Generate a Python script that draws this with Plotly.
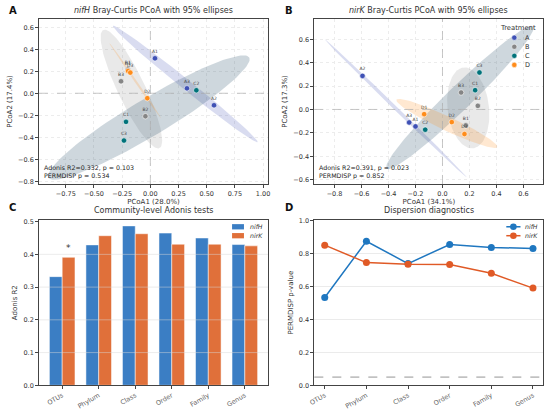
import numpy as np
import plotly.graph_objects as go
from plotly.subplots import make_subplots

# ---- data ----
groups = ["A", "B", "C", "D"]
group_colors = {"A": "#3f51b5", "B": "#858585", "C": "#00727a", "D": "#ff8c1a"}
group_fills = {"A": "rgba(63,81,181,0.2)", "B": "rgba(133,133,133,0.18)",
               "C": "rgba(30,75,100,0.22)", "D": "rgba(255,140,26,0.2)"}

samples = ["A1", "A2", "A3", "B1", "B2", "B3", "C1", "C2", "C3", "D1", "D2", "D3"]

nifh_pc1 = [0.041, 0.565, 0.325, -0.20, -0.044, -0.26, -0.216, 0.408, -0.234, -0.198, -0.027, -0.178]
nifh_pc2 = [0.318, -0.109, 0.045, 0.215, -0.209, 0.109, -0.26, 0.027, -0.43, 0.203, -0.045, 0.188]
nifh_var = (28.0, 17.4)
nifh_stats = (0.332, 0.103, 0.534)

nirk_pc1 = [-0.20, -0.593, -0.247, 0.173, 0.262, 0.138, 0.242, -0.128, 0.274, -0.136, 0.069, 0.163]
nirk_pc2 = [-0.145, 0.287, -0.111, -0.136, 0.031, 0.145, 0.165, -0.173, 0.316, -0.04, -0.108, -0.21]
nirk_var = (34.1, 17.3)
nirk_stats = (0.391, 0.023, 0.852)

levels = ["OTUs", "Phylum", "Class", "Order", "Family", "Genus"]
nifh_r2 = [0.332, 0.429, 0.487, 0.465, 0.450, 0.430]
nirk_r2 = [0.391, 0.457, 0.463, 0.431, 0.431, 0.426]
nirk_sig = ["*", "", "", "", "", ""]

nifh_disp = [0.534, 0.876, 0.740, 0.856, 0.838, 0.832]
nirk_disp = [0.852, 0.746, 0.736, 0.734, 0.681, 0.591]

bar_blue, bar_orange = "#3b7ec4", "#e0703a"
line_blue, line_orange = "#1f77c0", "#e05a26"

FONT = "DejaVu Sans"
TXT = "#333333"


def ellipse_xy(xs, ys, n=120):
    # 95% covariance ellipse, chi2(2) = 5.991
    pts = np.column_stack([xs, ys])
    mu = pts.mean(axis=0)
    vals, vecs = np.linalg.eigh(np.cov(pts, rowvar=False))
    r = np.sqrt(np.clip(vals, 0, None) * 5.991)
    t = np.linspace(0, 2 * np.pi, n)
    e = np.column_stack([np.cos(t) * r[0], np.sin(t) * r[1]]) @ vecs.T + mu
    return e[:, 0], e[:, 1]


fig = make_subplots(rows=2, cols=2)


def add_pcoa(pc1, pc2, row, col):
    grp = [s[0] for s in samples]
    for g in groups:
        xs = [x for x, k in zip(pc1, grp) if k == g]
        ys = [y for y, k in zip(pc2, grp) if k == g]
        ex, ey = ellipse_xy(xs, ys)
        fig.add_trace(go.Scatter(x=ex, y=ey, mode="lines", fill="toself",
                                 fillcolor=group_fills[g], line=dict(width=0),
                                 hoverinfo="skip", showlegend=False), row=row, col=col)
    for g in groups:
        idx = [i for i, k in enumerate(grp) if k == g]
        fig.add_trace(go.Scatter(x=[pc1[i] for i in idx], y=[pc2[i] for i in idx],
                                 text=[samples[i] for i in idx], mode="markers+text",
                                 textposition="top center",
                                 textfont=dict(size=4.5, color="#444", family=FONT),
                                 marker=dict(size=5.5, color=group_colors[g],
                                             line=dict(color="white", width=0.6)),
                                 name=g, showlegend=False), row=row, col=col)


add_pcoa(nifh_pc1, nifh_pc2, 1, 1)
add_pcoa(nirk_pc1, nirk_pc2, 1, 2)

fig.add_trace(go.Bar(x=list(range(len(levels))), y=nifh_r2, name="nifH", offsetgroup="a",
                     marker=dict(color=bar_blue, line=dict(color="white", width=0.5)),
                     showlegend=False), row=2, col=1)
fig.add_trace(go.Bar(x=list(range(len(levels))), y=nirk_r2, name="nirK", offsetgroup="b",
                     marker=dict(color=bar_orange, line=dict(color="white", width=0.5)),
                     showlegend=False), row=2, col=1)

fig.add_trace(go.Scatter(x=list(range(len(levels))), y=nifh_disp, mode="lines+markers",
                         line=dict(color=line_blue, width=1.5), marker=dict(size=7, color=line_blue),
                         name="nifH", showlegend=False), row=2, col=2)
fig.add_trace(go.Scatter(x=list(range(len(levels))), y=nirk_disp, mode="lines+markers",
                         line=dict(color=line_orange, width=1.5), marker=dict(size=7, color=line_orange),
                         name="nirK", showlegend=False), row=2, col=2)

# ---- axes ----
dom_x = [[0.0709, 0.4873], [0.5715, 0.988]]
dom_y = [[0.5556, 0.954], [0.0693, 0.4686]]
axis_common = dict(showline=True, mirror=True, linecolor="#444", linewidth=0.8,
                   ticks="outside", ticklen=3, tickwidth=0.8, tickcolor="#444",
                   tickfont=dict(size=6.5, color=TXT, family=FONT), zeroline=False,
                   automargin=False, title_font=dict(size=7, color=TXT, family=FONT))
for r in (1, 2):
    for c in (1, 2):
        fig.update_xaxes(domain=dom_x[c - 1], row=r, col=c, **axis_common)
        fig.update_yaxes(domain=dom_y[r - 1], row=r, col=c, **axis_common)

pcoa_grid = dict(showgrid=True, gridcolor="#ececec", griddash="dot", gridwidth=0.6)
fig.update_xaxes(range=[-0.988, 1.044], tickvals=[-0.75, -0.5, -0.25, 0, 0.25, 0.5, 0.75, 1.0],
                 ticktext=["−0.75", "−0.50", "−0.25", "0.00", "0.25", "0.50", "0.75", "1.00"],
                 title_text="PCoA1 (%.1f%%)" % nifh_var[0], title_standoff=2, row=1, col=1, **pcoa_grid)
fig.update_yaxes(range=[-0.825, 0.675], tickvals=[-0.8, -0.6, -0.4, -0.2, 0, 0.2, 0.4, 0.6],
                 ticktext=["−0.8", "−0.6", "−0.4", "−0.2", "0.0", "0.2", "0.4", "0.6"],
                 title_text="PCoA2 (%.1f%%)" % nifh_var[1], title_standoff=4, row=1, col=1, **pcoa_grid)
fig.update_xaxes(range=[-0.95, 0.748], tickvals=[-0.8, -0.6, -0.4, -0.2, 0, 0.2, 0.4, 0.6],
                 ticktext=["−0.8", "−0.6", "−0.4", "−0.2", "0.0", "0.2", "0.4", "0.6"],
                 title_text="PCoA1 (%.1f%%)" % nirk_var[0], title_standoff=2, row=1, col=2, **pcoa_grid)
fig.update_yaxes(range=[-0.637, 0.773], tickvals=[-0.6, -0.4, -0.2, 0, 0.2, 0.4, 0.6],
                 ticktext=["−0.6", "−0.4", "−0.2", "0.0", "0.2", "0.4", "0.6"],
                 title_text="PCoA2 (%.1f%%)" % nirk_var[1], title_standoff=4, row=1, col=2, **pcoa_grid)

cat_ticks = dict(tickvals=list(range(len(levels))), ticktext=levels, tickangle=-30,
                 tickfont=dict(size=6.5, color="#666", family=FONT), showgrid=False)
fig.update_xaxes(range=[-0.635, 5.635], row=2, col=1, **cat_ticks)
fig.update_xaxes(range=[-0.25, 5.25], row=2, col=2, **cat_ticks)
fig.update_yaxes(range=[0, 0.505], dtick=0.1, tickformat=".1f", showgrid=False,
                 title_text="Adonis R2", title_standoff=4, row=2, col=1)
fig.update_yaxes(range=[0, 1.005], dtick=0.2, tickformat=".1f", showgrid=True,
                 gridcolor="#ebebeb", gridwidth=0.6,
                 title_text="PERMDISP p-value", title_standoff=4, row=2, col=2)

# ---- reference lines ----
for xr, yr in (("x", "y"), ("x2", "y2")):
    fig.add_shape(type="line", xref=xr, yref=yr + " domain", x0=0, x1=0, y0=0, y1=1,
                  line=dict(color="#b0b0b0", width=0.7, dash="dash"))
    fig.add_shape(type="line", xref=xr + " domain", yref=yr, x0=0, x1=1, y0=0, y1=0,
                  line=dict(color="#b0b0b0", width=0.7, dash="dash"))
fig.add_shape(type="line", xref="x4 domain", yref="y4", x0=0, x1=1, y0=0.05, y1=0.05,
              line=dict(color="#888888", width=0.9, dash="dash"))
# grid drawn over the bars
for v in (0.1, 0.2, 0.3, 0.4):
    fig.add_shape(type="line", xref="x3 domain", yref="y3", x0=0, x1=1, y0=v, y1=v,
                  layer="above", line=dict(color="rgba(215,215,215,0.6)", width=0.8))

# ---- text ----
ann = []
titles = [("<i>nifH</i> Bray-Curtis PCoA with 95% ellipses", 0.279, 0.974),
          ("<i>nirK</i> Bray-Curtis PCoA with 95% ellipses", 0.7797, 0.974),
          ("Community-level Adonis tests", 0.279, 0.492),
          ("Dispersion diagnostics", 0.7797, 0.492)]
for t, x, y in titles:
    ann.append(dict(text=t, x=x, y=y, xref="paper", yref="paper", showarrow=False,
                    xanchor="center", yanchor="middle", font=dict(size=8, color=TXT, family=FONT)))
for t, x, y in (("A", 0.013, 0.975), ("B", 0.514, 0.975), ("C", 0.013, 0.498), ("D", 0.514, 0.498)):
    ann.append(dict(text="<b>%s</b>" % t, x=x, y=y, xref="paper", yref="paper", showarrow=False,
                    xanchor="left", yanchor="middle", font=dict(size=10, color="#111", family=FONT)))
for (r2, p, pd_), xr, yr in ((nifh_stats, "x", "y"), (nirk_stats, "x2", "y2")):
    ann.append(dict(text="Adonis R2=%.3f, p = %.3f<br>PERMDISP p = %.3f" % (r2, p, pd_),
                    x=0.012, y=0.015, xref=xr + " domain", yref=yr + " domain", showarrow=False,
                    xanchor="left", yanchor="bottom", align="left",
                    font=dict(size=6.3, color="#222", family=FONT)))
for i, s in enumerate(nirk_sig):
    if s:
        ann.append(dict(text=s, x=i + 0.175, y=nirk_r2[i] + 0.008, xref="x3", yref="y3",
                        showarrow=False, yanchor="bottom", font=dict(size=9, color="#333", family=FONT)))

# treatment legend (panel B)
ann.append(dict(text="Treatment", x=0.89, y=0.945, xref="x2 domain", yref="y2 domain",
                showarrow=False, xanchor="center", yanchor="middle",
                font=dict(size=6.8, color=TXT, family=FONT)))
for i, g in enumerate(groups):
    yy = 0.887 - 0.055 * i
    fig.add_shape(type="circle", xref="x2 domain", yref="y2 domain", xsizemode="pixel",
                  ysizemode="pixel", xanchor=0.873, yanchor=yy, x0=-2.6, x1=2.6, y0=-2.6, y1=2.6,
                  fillcolor=group_colors[g], line=dict(color="white", width=0.5))
    ann.append(dict(text=g, x=0.91, y=yy, xref="x2 domain", yref="y2 domain", showarrow=False,
                    xanchor="left", yanchor="middle", font=dict(size=6.5, color=TXT, family=FONT)))

# bar legend (panel C) and line legend (panel D)
for i, (name, cb, cl) in enumerate((("nifH", bar_blue, line_blue), ("nirK", bar_orange, line_orange))):
    yy = 0.959 - 0.054 * i
    fig.add_shape(type="rect", xref="x3 domain", yref="y3 domain", x0=0.843, x1=0.895,
                  y0=yy - 0.016, y1=yy + 0.016, fillcolor=cb, line=dict(width=0))
    ann.append(dict(text="<i>%s</i>" % name, x=0.913, y=yy, xref="x3 domain", yref="y3 domain",
                    showarrow=False, xanchor="left", yanchor="middle",
                    font=dict(size=6.2, color=TXT, family=FONT)))
    fig.add_shape(type="line", xref="x4 domain", yref="y4 domain", x0=0.838, x1=0.90,
                  y0=yy, y1=yy, line=dict(color=cl, width=1.5))
    fig.add_shape(type="circle", xref="x4 domain", yref="y4 domain", xsizemode="pixel",
                  ysizemode="pixel", xanchor=0.869, yanchor=yy, x0=-3.3, x1=3.3, y0=-3.3, y1=3.3,
                  fillcolor=cl, line=dict(width=0))
    ann.append(dict(text="<i>%s</i>" % name, x=0.913, y=yy, xref="x4 domain", yref="y4 domain",
                    showarrow=False, xanchor="left", yanchor="middle",
                    font=dict(size=6.2, color=TXT, family=FONT)))

fig.update_layout(width=550, height=414, margin=dict(l=0, r=0, t=0, b=0),
                  paper_bgcolor="white", plot_bgcolor="white", barmode="group",
                  bargap=0.3, bargroupgap=0, showlegend=False, annotations=ann,
                  font=dict(family=FONT, color=TXT))

# the page body has a default 8px margin; drop it so the figure fills the window
fig.write_html("out.html", config={"displayModeBar": False},
               post_script="document.body.style.margin='0';")
